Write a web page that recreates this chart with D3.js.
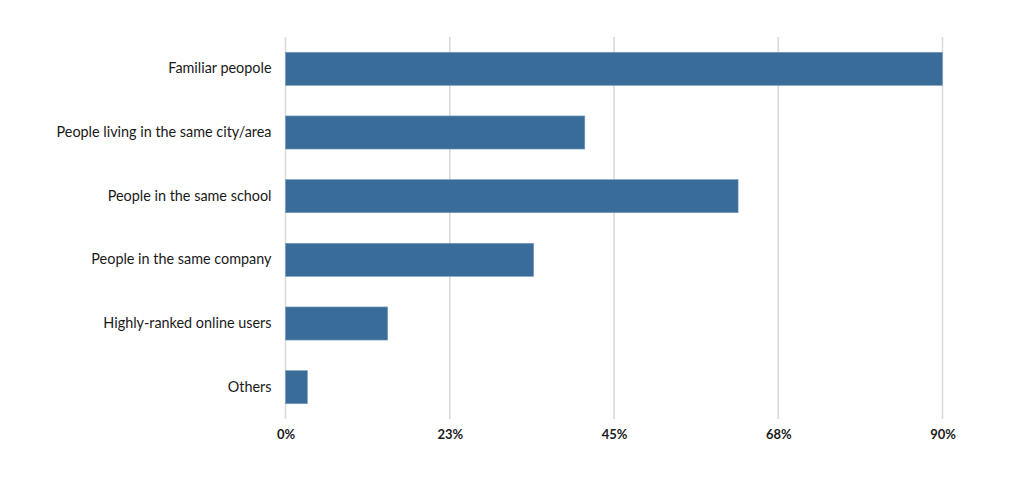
<!DOCTYPE html>
<html>
<head>
<meta charset="utf-8">
<script src="https://cdn.jsdelivr.net/npm/d3@7"></script>
<style>
  body { margin: 0; background: #fff; }
  svg { display: block; }
</style>
</head>
<body>
<svg id="chart"></svg>
<script>
const categories = [
  "Familiar peopole",
  "People living in the same city/area",
  "People in the same school",
  "People in the same company",
  "Highly-ranked online users",
  "Others"
];
const values = [90, 41, 62, 34, 14, 3];
const tickValues = [0, 22.5, 45, 67.5, 90];

function renderBarChart() {
    const width = 1010, height = 480;
    const margin = { top: 37, right: 67.5, bottom: 61, left: 285.5 };
    const innerW = width - margin.left - margin.right;
    const innerH = height - margin.top - margin.bottom;

    const svg = d3.select("#chart")
        .attr("width", width)
        .attr("height", height);

    const g = svg.append("g")
        .attr("transform", `translate(${margin.left},${margin.top})`);

    // scales
    const xScale = d3.scaleLinear().domain([0, 90]).range([0, innerW]);
    const yScale = d3.scaleBand()
        .domain(categories)
        .range([0, innerH])
        .paddingInner(0.48)
        .paddingOuter(0.24);

    // vertical gridlines
    g.selectAll(".grid")
        .data(tickValues)
        .enter()
        .append("line")
        .attr("x1", d => xScale(d))
        .attr("x2", d => xScale(d))
        .attr("y1", 0)
        .attr("y2", innerH)
        .style("stroke", "#d9d9d9")
        .style("stroke-width", 1.5);

    // bars
    g.selectAll("rect")
        .data(values)
        .enter()
        .append("rect")
        .attr("x", 0)
        .attr("y", (d, i) => yScale(categories[i]))
        .attr("width", d => xScale(d))
        .attr("height", yScale.bandwidth())
        .style("fill", "#396c98")
        .style("stroke", "#7b9cbb")
        .style("stroke-width", 0.6);

    // y labels
    const yAxis = g.append("g")
        .call(d3.axisLeft(yScale).tickSize(0).tickPadding(14));
    yAxis.select(".domain").remove();
    yAxis.selectAll("text")
        .style("font-family", "Lato")
        .style("font-size", "14.4px")
        .style("fill", "#1a1a1a");

    // x tick labels
    const xAxis = g.append("g")
        .attr("transform", `translate(0, ${innerH})`)
        .call(d3.axisBottom(xScale)
            .tickValues(tickValues)
            .tickSize(0)
            .tickPadding(11)
            .tickFormat(d => Math.round(d) + "%"));
    xAxis.select(".domain").remove();
    xAxis.selectAll("text")
        .style("font-family", "Lato")
        .style("font-weight", "bold")
        .style("font-size", "13px")
        .style("fill", "#1a1a1a");
}

renderBarChart();
</script>
</body>
</html>
